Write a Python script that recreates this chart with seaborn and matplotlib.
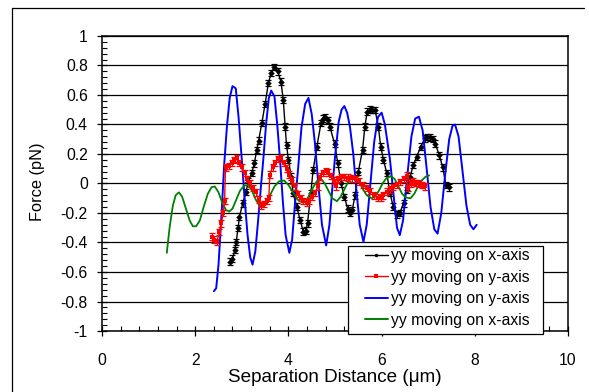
import numpy as np
import pandas as pd
import matplotlib
matplotlib.use("Agg")
import matplotlib.pyplot as plt
import seaborn as sns
from matplotlib.ticker import MultipleLocator, FuncFormatter
from matplotlib.lines import Line2D
from matplotlib.patches import Rectangle

# ---------------- data ----------------
black_x = [2.75, 2.80, 2.85, 2.88, 2.92, 2.95, 3.02, 3.09, 3.14, 3.21, 3.27, 3.32, 3.36, 3.43,
           3.50, 3.57, 3.63, 3.70, 3.77, 3.84, 3.89, 3.93, 3.96, 4.00, 4.06, 4.10, 4.18, 4.25,
           4.32, 4.37, 4.41, 4.48, 4.53, 4.61, 4.70, 4.74, 4.79, 4.84, 4.89, 4.99, 5.06, 5.13,
           5.20, 5.27, 5.32, 5.37, 5.43, 5.50, 5.59, 5.64, 5.69, 5.75, 5.79, 5.86, 5.93, 5.98,
           6.04, 6.11, 6.18, 6.25, 6.32, 6.39, 6.47, 6.54, 6.61, 6.68, 6.75, 6.84, 6.93, 6.98,
           7.04, 7.10, 7.15, 7.24, 7.31, 7.38, 7.45]
black_y = [-0.53, -0.51, -0.45, -0.395, -0.30, -0.225, -0.134, -0.056, 0.012, 0.07, 0.137, 0.227,
           0.29, 0.41, 0.54, 0.68, 0.75, 0.79, 0.76, 0.69, 0.566, 0.385, 0.26, 0.16, 0.046, -0.066,
           -0.157, -0.247, -0.327, -0.32, -0.27, -0.066, 0.09, 0.25, 0.41, 0.44, 0.45, 0.43, 0.385,
           0.27, 0.137, 0.0, -0.09, -0.17, -0.20, -0.18, -0.08, 0.08, 0.227, 0.385, 0.487, 0.50,
           0.498, 0.498, 0.385, 0.25, 0.16, 0.07, -0.066, -0.157, -0.21, -0.20, -0.134, -0.044,
           0.046, 0.125, 0.18, 0.25, 0.306, 0.315, 0.313, 0.30, 0.27, 0.19, 0.11, -0.01, -0.026]
black_err = 0.022

red_x = [2.35, 2.40, 2.46, 2.52, 2.56, 2.60, 2.63, 2.65, 2.72, 2.78, 2.84, 2.89, 2.95, 3.00,
         3.06, 3.12, 3.18, 3.24, 3.30, 3.36, 3.42, 3.48, 3.54, 3.58, 3.60, 3.66, 3.72, 3.78,
         3.84, 3.90, 3.96, 4.02, 4.08, 4.14, 4.20, 4.26, 4.32, 4.39, 4.45, 4.51, 4.57, 4.63,
         4.68, 4.74, 4.80, 4.86, 4.92, 4.98, 5.02, 5.06, 5.12, 5.20, 5.28, 5.36, 5.44, 5.52,
         5.60, 5.68, 5.76, 5.84, 5.92, 5.98, 6.04, 6.11, 6.18, 6.25, 6.32, 6.40, 6.47, 6.54,
         6.57, 6.62, 6.68, 6.74, 6.80, 6.87, 6.93]
red_y = [-0.36, -0.38, -0.395, -0.33, -0.27, -0.20, -0.12, 0.11, 0.12, 0.14, 0.16, 0.17, 0.14,
         0.11, 0.07, 0.03, 0.0, -0.03, -0.06, -0.11, -0.15, -0.14, -0.12, -0.10, 0.06, 0.11,
         0.14, 0.165, 0.17, 0.14, 0.10, 0.06, 0.02, -0.02, -0.07, -0.10, -0.12, -0.13, -0.12,
         -0.09, -0.066, -0.02, 0.046, 0.07, 0.085, 0.075, 0.05, 0.02, -0.02, 0.03, 0.045, 0.045,
         0.04, 0.035, 0.03, 0.015, -0.01, -0.03, -0.05, -0.08, -0.095, -0.10, -0.08, -0.055,
         -0.04, -0.025, -0.01, 0.01, 0.03, 0.053, -0.03, 0.0, 0.015, 0.005, 0.0, -0.01, -0.02]
red_err = 0.022

blue_x = [2.40, 2.45, 2.50, 2.57, 2.62, 2.68, 2.74, 2.80, 2.87, 2.93, 3.00, 3.06, 3.12, 3.18,
          3.23, 3.29, 3.35, 3.41, 3.46, 3.52, 3.58, 3.63, 3.70, 3.76, 3.82, 3.88, 3.94, 4.02,
          4.08, 4.14, 4.21, 4.28, 4.36, 4.43, 4.50, 4.57, 4.64, 4.72, 4.81, 4.88, 4.94, 5.00,
          5.08, 5.14, 5.20, 5.26, 5.32, 5.39, 5.46, 5.53, 5.61, 5.68, 5.76, 5.84, 5.92, 6.00,
          6.07, 6.18, 6.27, 6.33, 6.39, 6.46, 6.55, 6.64, 6.72, 6.80, 6.88, 6.96, 7.05, 7.13,
          7.20, 7.28, 7.36, 7.45, 7.52, 7.575, 7.65, 7.73, 7.82, 7.90, 7.97, 8.04]
blue_y = [-0.73, -0.71, -0.55, -0.18, 0.12, 0.385, 0.58, 0.66, 0.645, 0.45, 0.16, -0.10, -0.34,
          -0.50, -0.55, -0.46, -0.25, -0.02, 0.16, 0.40, 0.58, 0.63, 0.59, 0.40, 0.16, -0.12,
          -0.35, -0.47, -0.38, -0.14, 0.11, 0.38, 0.54, 0.58, 0.47, 0.27, 0.0, -0.28, -0.42,
          -0.28, -0.04, 0.18, 0.42, 0.50, 0.525, 0.48, 0.385, 0.205, -0.05, -0.28, -0.395, -0.28,
          0.0, 0.28, 0.45, 0.48, 0.40, 0.16, -0.12, -0.30, -0.35, -0.25, 0.05, 0.32, 0.44, 0.453,
          0.36, 0.12, -0.16, -0.31, -0.34, -0.20, 0.05, 0.30, 0.39, 0.40, 0.32, 0.10, -0.15,
          -0.28, -0.31, -0.28]

green_x = [1.39, 1.45, 1.52, 1.58, 1.65, 1.72, 1.80, 1.88, 1.95, 2.02, 2.10, 2.18, 2.27, 2.35,
           2.42, 2.50, 2.58, 2.66, 2.73, 2.80, 2.88, 2.96, 3.05, 3.14, 3.22, 3.30, 3.38, 3.46,
           3.54, 3.62, 3.70, 3.80, 3.91, 4.00, 4.10, 4.20, 4.30, 4.38, 4.46, 4.54, 4.62, 4.70,
           4.78, 4.86, 4.94, 5.04, 5.12, 5.20, 5.28, 5.36, 5.43, 5.52, 5.60, 5.68, 5.78, 5.86,
           5.94, 6.02, 6.10, 6.20, 6.28, 6.36, 6.44, 6.52, 6.62, 6.70, 6.78, 6.86, 6.94, 7.02]
green_y = [-0.47, -0.30, -0.15, -0.08, -0.06, -0.09, -0.17, -0.25, -0.29, -0.29, -0.25, -0.16,
           -0.07, -0.025, -0.02, -0.06, -0.13, -0.18, -0.19, -0.17, -0.11, -0.05, -0.015, -0.01,
           -0.05, -0.11, -0.15, -0.16, -0.13, -0.07, -0.02, 0.015, 0.02, -0.01, -0.06, -0.11,
           -0.13, -0.12, -0.07, -0.02, 0.02, 0.03, 0.0, -0.05, -0.10, -0.12, -0.09, -0.04, 0.01,
           0.04, 0.04, 0.01, -0.04, -0.08, -0.10, -0.09, -0.05, 0.0, 0.035, 0.05, 0.03, -0.02,
           -0.07, -0.095, -0.10, -0.07, -0.02, 0.02, 0.045, 0.055]

legend_labels = ["yy moving on x-axis", "yy moving on y-axis",
                 "yy moving on y-axis", "yy moving on x-axis"]
x_ticks = [0, 2, 4, 6, 8, 10]
x_label = "Separation Distance (\u03bcm)"
y_label = "Force (pN)"

# ---------------- style ----------------
sns.set_style("white")
plt.rcParams['font.family'] = ['Liberation Sans', 'DejaVu Sans']
plt.rcParams['axes.unicode_minus'] = False
FS = 11.3

fig = plt.figure(figsize=(5.89, 3.92), dpi=100, facecolor='white')
ax = fig.add_axes([0.1732, 0.1556, 0.7912, 0.7526])
ax.set_facecolor('white')

# horizontal gridlines
ax.yaxis.grid(True, which='major', color='black', linewidth=0.9)
ax.xaxis.grid(False)
ax.set_axisbelow(True)

df_b = pd.DataFrame({'x': black_x, 'y': black_y})
df_r = pd.DataFrame({'x': red_x, 'y': red_y})
df_u = pd.DataFrame({'x': blue_x, 'y': blue_y})
df_g = pd.DataFrame({'x': green_x, 'y': green_y})

ax.errorbar(black_x, black_y, yerr=black_err, fmt='none', ecolor='black',
            elinewidth=0.8, capsize=2.4, capthick=0.9, zorder=3)
sns.lineplot(data=df_b, x='x', y='y', ax=ax, color='black', linewidth=1.0,
             marker='D', markersize=3.3, markeredgewidth=0, sort=False,
             estimator=None, zorder=3, legend=False)

sns.lineplot(data=df_u, x='x', y='y', ax=ax, color='#0000ff', linewidth=1.4,
             sort=False, estimator=None, zorder=4, legend=False)
sns.lineplot(data=df_g, x='x', y='y', ax=ax, color='#008000', linewidth=1.3,
             sort=False, estimator=None, zorder=4.5, legend=False)

ax.errorbar(red_x, red_y, yerr=red_err, fmt='none', ecolor='#ff0000',
            elinewidth=0.8, capsize=2.4, capthick=0.9, zorder=5)
sns.lineplot(data=df_r, x='x', y='y', ax=ax, color='#ff0000', linewidth=1.0,
             marker='s', markersize=3.3, markeredgewidth=0, sort=False,
             estimator=None, zorder=5, legend=False)

ax.set_xlim(0, 10)
ax.set_ylim(-1, 1)
ax.set_xticks(x_ticks)
ax.xaxis.set_minor_locator(MultipleLocator(0.4))
ax.yaxis.set_major_locator(MultipleLocator(0.2))
ax.yaxis.set_minor_locator(MultipleLocator(0.04))


def yfmt(v, pos):
    if abs(v) < 1e-9:
        return "0"
    return f"{v:.1f}".rstrip('0').rstrip('.')


ax.yaxis.set_major_formatter(FuncFormatter(yfmt))
ax.xaxis.set_major_formatter(FuncFormatter(lambda v, p: f"{v:g}"))

ax.tick_params(axis='both', which='major', direction='inout', length=6.5, width=0.9,
               color='black', labelsize=FS, labelcolor='black', top=False, right=False,
               left=True, bottom=True)
ax.tick_params(axis='both', which='minor', direction='in', length=3.3, width=0.8,
               color='black', top=False, right=False, left=True, bottom=True)
ax.tick_params(axis='x', which='major', pad=12.3)
ax.tick_params(axis='y', which='major', pad=7.0)

for s in ax.spines.values():
    s.set_visible(True)
    s.set_color('black')
    s.set_linewidth(1.1)

ax.set_xlabel(x_label, fontsize=13.6, color='black')
ax.set_ylabel(y_label, fontsize=11.8, color='black')
ax.xaxis.set_label_coords(0.5, -0.128)
ax.yaxis.label.set_va('center')
ax.yaxis.set_label_coords(-0.139, 0.505)

# legend box drawn manually, legend entries without frame
frame = Rectangle((0.528, -0.01), 0.418, 0.298, transform=ax.transAxes,
                  facecolor='white', edgecolor='black', linewidth=0.9,
                  clip_on=False, zorder=8)
ax.add_patch(frame)
handles = [
    Line2D([], [], color='black', linewidth=1.0, marker='o', markersize=2.5, markeredgewidth=0),
    Line2D([], [], color='#ff0000', linewidth=1.0, marker='s', markersize=2.5, markeredgewidth=0),
    Line2D([], [], color='#0000ff', linewidth=1.4),
    Line2D([], [], color='#008000', linewidth=1.4),
]
leg = ax.legend(handles=handles, labels=legend_labels, loc='upper left',
                bbox_to_anchor=(0.5644, 0.281), frameon=False, fontsize=FS,
                borderpad=0, borderaxespad=0, handlelength=1.45, handletextpad=0.2,
                labelspacing=0.42)
leg.set_zorder(9)
for t in leg.get_texts():
    t.set_color('black')

# figure border (top and left edges visible)
fig.add_artist(Line2D([12 / 589, 584 / 589], [1 - 8 / 392, 1 - 8 / 392],
                      transform=fig.transFigure, color='black', linewidth=0.9))
fig.add_artist(Line2D([12 / 589, 12 / 589], [1 - 8 / 392, 0],
                      transform=fig.transFigure, color='black', linewidth=0.9))

fig.savefig("out.png", dpi=100, facecolor='white')
